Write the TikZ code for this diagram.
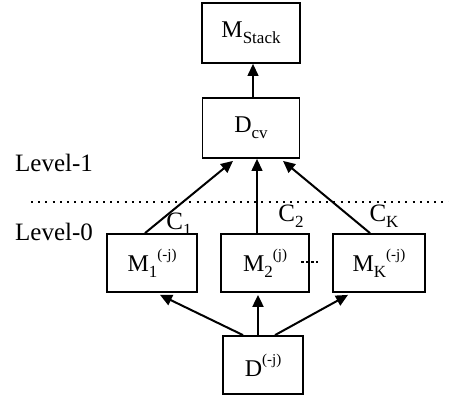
\documentclass[tikz,border=0pt]{standalone}
\usepackage{fontspec}
\setmainfont{Liberation Serif}
\usetikzlibrary{arrows.meta}
\newcommand{\subtx}[1]{\raisebox{-0.25em}{\fontsize{17}{17}\selectfont #1}}
\newcommand{\suptx}[1]{\raisebox{0.5em}{\fontsize{15}{15}\selectfont #1}}
\begin{document}
\begin{tikzpicture}[x=1pt,y=-1pt,
  box/.style={draw,line width=1.8pt,minimum width=#1,minimum height=58pt,
    inner sep=0pt,font=\fontsize{24}{28}\selectfont},
  arr/.style={line width=2pt,-{Triangle[length=12pt,width=11pt]}},
  thinarr/.style={arr,line width=1.2pt},
  lbl/.style={font=\fontsize{25}{30}\selectfont,inner sep=0pt}]
  \useasboundingbox (0,0) rectangle (449,396);
  \def\rTop{33} \def\rCv{128} \def\rM{263} \def\rD{365}
  % boxes
  \node[box=98pt,minimum height=60pt] (mstack) at (251,\rTop) {M\subtx{Stack}};
  \node[box=97pt,minimum height=60pt] (dcv) at (251,\rCv) {D\subtx{cv}};
  \node[box=90pt] (m1) at (152,\rM) {M\subtx{1}\suptx{(-j)}};
  \node[box=88pt] (m2) at (265,\rM) {M\subtx{2}\suptx{(j)}};
  \node[box=92pt] (mk) at (379,\rM) {M\subtx{K}\suptx{(-j)}};
  \node[box=80pt] (dj) at (263,\rD) {D\suptx{(-j)}};
  % levels
  \node[lbl] (lev1) at (54,163) {Level-1};
  \node[lbl] (lev0) at (54,232) {Level-0};
  \draw[line width=2pt,dash pattern=on 2pt off 5.2pt] (31,202) -- (449,202);
  \draw[line width=1.6pt,dash pattern=on 2.5pt off 2.5pt] (301,262) -- (318,262);
  % arrows
  \draw[arr] ([xshift=-20pt]dj.north) -- ([xshift=8pt,yshift=-2pt]m1.south);
  \draw[arr] ([xshift=-5pt]dj.north) -- ([xshift=-7pt,yshift=-2pt]m2.south);
  \draw[arr] ([xshift=12pt]dj.north) -- ([xshift=-31pt,yshift=-2pt]mk.south);
  \draw[arr] ([xshift=-7pt]m1.north) -- ([xshift=-18pt,yshift=-2pt]dcv.south);
  \draw[thinarr] ([xshift=-8pt]m2.north) -- ([xshift=6pt]dcv.south);
  \draw[arr] ([xshift=-9pt]mk.north) -- ([xshift=32pt,yshift=-2pt]dcv.south);
  \draw[thinarr] ([xshift=2pt]dcv.north) -- ([xshift=2pt]mstack.south);
  % labels
  \node[lbl] (c1) at (179,224) {C\subtx{1}};
  \node[lbl] (c2) at (291,216) {C\subtx{2}};
  \node[lbl] (ck) at (384,216) {C\subtx{K}};
\end{tikzpicture}
\end{document}
